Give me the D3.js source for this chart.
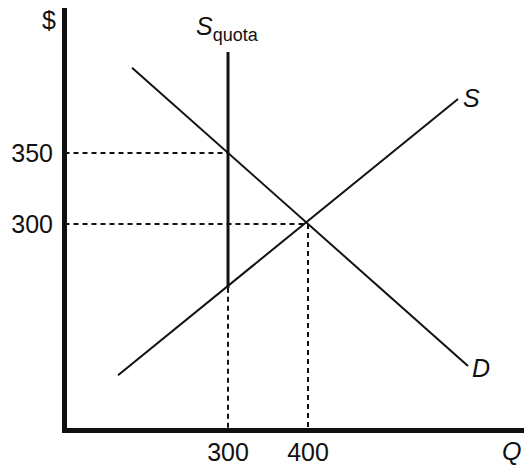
<!DOCTYPE html>
<html>
<head>
<meta charset="utf-8">
<script src="https://cdn.jsdelivr.net/npm/d3@7"></script>
<style>
  body { margin: 0; background: #fff; }
  text { font-family: "Liberation Sans", Arial, sans-serif; fill: #111; }
</style>
</head>
<body>
<svg width="524" height="465"></svg>
<script>
// quantity / price values
const qDomain = [95.6, 670];
const pDomain = [154.6, 452];
const supply = [[162.5, 193.5], [587.5, 388]];
const demand = [[180, 410], [600, 200]];
const quota = [[300, 255], [300, 421]];
const equilibrium = { q: 400, p: 300 };
const quotaPoint = { q: 300, p: 350 };
const qTicks = [300, 400];
const pTicks = [300, 350];

const svg = d3.select("svg");
const x = d3.scaleLinear().domain(qDomain).range([64.5, 524]);
const y = d3.scaleLinear().domain(pDomain).range([430.5, 8]);
const line = d3.line().x(d => x(d[0])).y(d => y(d[1]));

// dashed guides
const dash = svg.append("g")
  .attr("stroke", "#111").attr("stroke-width", 2).attr("stroke-dasharray", "5,4");
dash.append("line")
  .attr("x1", x(qDomain[0])).attr("x2", x(quotaPoint.q))
  .attr("y1", y(quotaPoint.p)).attr("y2", y(quotaPoint.p));
dash.append("line")
  .attr("x1", x(qDomain[0])).attr("x2", x(equilibrium.q))
  .attr("y1", y(equilibrium.p)).attr("y2", y(equilibrium.p));
dash.append("line")
  .attr("x1", x(equilibrium.q)).attr("x2", x(equilibrium.q))
  .attr("y1", y(equilibrium.p)).attr("y2", y(pDomain[0]));
dash.append("line")
  .attr("x1", x(quota[0][0])).attr("x2", x(quota[0][0]))
  .attr("y1", y(quota[0][1])).attr("y2", y(pDomain[0]));

// curves
svg.append("path").attr("d", line(supply))
  .attr("fill", "none").attr("stroke", "#111").attr("stroke-width", 2);
svg.append("path").attr("d", line(demand))
  .attr("fill", "none").attr("stroke", "#111").attr("stroke-width", 2);
svg.append("path").attr("d", line(quota))
  .attr("fill", "none").attr("stroke", "#111").attr("stroke-width", 3);

// axes
svg.append("line")
  .attr("x1", x(qDomain[0])).attr("x2", x(qDomain[0]))
  .attr("y1", y(pDomain[1])).attr("y2", y(pDomain[0]) + 2.5)
  .attr("stroke", "#111").attr("stroke-width", 5);
svg.append("line")
  .attr("x1", x(qDomain[0]) - 2.5).attr("x2", x(qDomain[1]))
  .attr("y1", y(pDomain[0])).attr("y2", y(pDomain[0]))
  .attr("stroke", "#111").attr("stroke-width", 5);

// tick labels
svg.selectAll("text.ptick").data(pTicks).enter().append("text")
  .attr("class", "ptick")
  .attr("x", 53).attr("y", d => y(d) + 9)
  .attr("text-anchor", "end").attr("font-size", 25)
  .text(d => d);
svg.selectAll("text.qtick").data(qTicks).enter().append("text")
  .attr("class", "qtick")
  .attr("x", d => x(d)).attr("y", 461)
  .attr("text-anchor", "middle").attr("font-size", 25)
  .text(d => d);

// axis titles and curve labels
svg.append("text").attr("x", 56).attr("y", 29)
  .attr("text-anchor", "end").attr("font-size", 25).text("$");
svg.append("text").attr("x", 502).attr("y", 460)
  .attr("font-size", 25).attr("font-style", "italic").text("Q");
svg.append("text").attr("x", x(supply[1][0]) + 5).attr("y", y(supply[1][1]) + 8)
  .attr("font-size", 25).attr("font-style", "italic").text("S");
svg.append("text").attr("x", x(demand[1][0]) + 4).attr("y", y(demand[1][1]) + 11)
  .attr("font-size", 25).attr("font-style", "italic").text("D");

const sq = svg.append("text").attr("x", 196).attr("y", 35).attr("font-size", 25);
sq.append("tspan").attr("font-style", "italic").text("S");
sq.append("tspan").attr("font-size", 18).attr("dy", 6).text("quota");
</script>
</body>
</html>
